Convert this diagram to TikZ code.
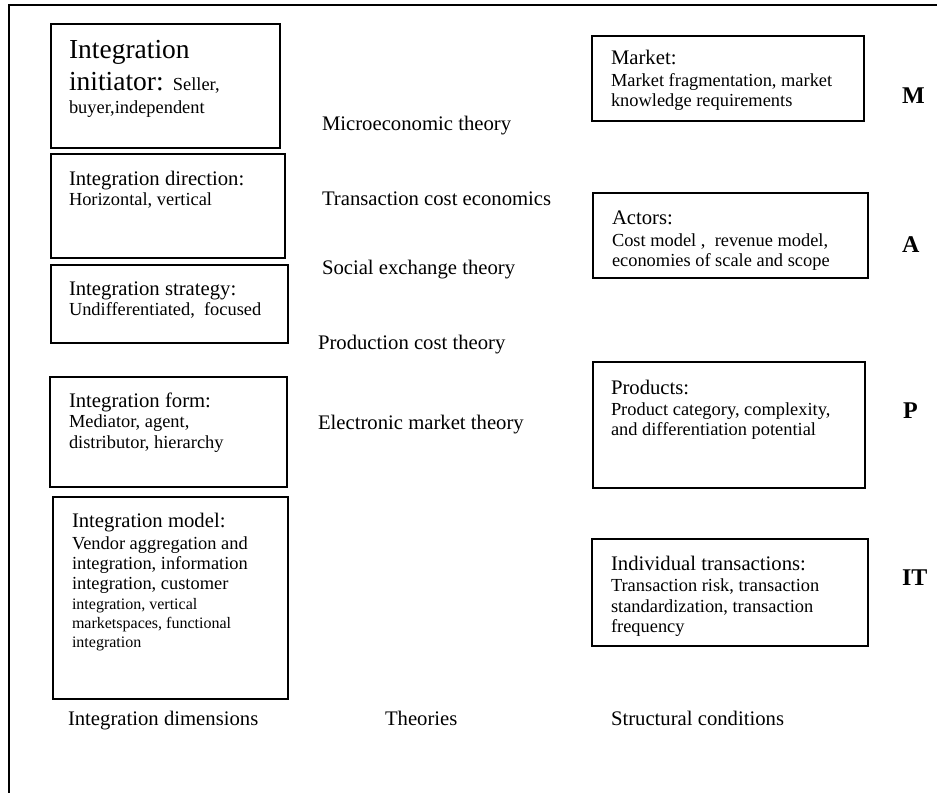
\documentclass[tikz,border=0pt]{standalone}
\usepackage{fontspec}
\setmainfont{Liberation Serif}

% type sizes used in the figure
\newcommand\bigfont{\fontsize{27.5}{33}\selectfont}
\newcommand\headfont{\fontsize{20.7}{22}\selectfont}
\newcommand\bodyfont{\fontsize{18.4}{20.5}\selectfont}
\newcommand\smallfont{\fontsize{16}{19}\selectfont}
\newcommand\tagfont{\fontsize{24}{24}\selectfont\bfseries}
% one text row, placed #1 pt below the previous baseline
\newcommand\rowat[2]{\baselineskip=#1pt\hbox{#2}}

\begin{document}
\begin{tikzpicture}[x=1pt,y=-1pt,
  frame/.style={line width=1.5pt},
  box/.style={draw, line width=1.5pt, inner sep=0pt},
  txt/.style={anchor=base west, inner sep=0pt, outer sep=0pt},
  theory/.style={txt, font=\headfont},
  tag/.style={txt, font=\tagfont}]

\useasboundingbox (0,0) rectangle (937,793);

% open frame: top and left edges only
\coordinate (fTR) at (937,5);
\coordinate (fTL) at (9,5);
\coordinate (fBL) at (9,793);
\draw[frame] (fTR) -- (fTL) -- (fBL);

% integration dimensions
\node[box, minimum width=229pt, minimum height=124pt] (init)  at (165.5,86) {};
\node[box, minimum width=234pt, minimum height=104pt] (dir)   at (168,206)  {};
\node[box, minimum width=237pt, minimum height=78pt]  (strat) at (169.5,304) {};
\node[box, minimum width=237pt, minimum height=110pt] (form)  at (168.5,432) {};
\node[box, minimum width=235pt, minimum height=202pt] (model) at (170.5,598) {};

\node[txt] (initT) at (69,58) {\vtop{%
  \rowat{0}{\bigfont Integration}%
  \rowat{32}{\bigfont initiator: \bodyfont Seller,}%
  \rowat{23}{\bodyfont buyer,independent}}};
\node[txt] (dirT) at (69,185) {\vtop{%
  \rowat{0}{\headfont Integration direction:}%
  \rowat{20}{\bodyfont Horizontal, vertical}}};
\node[txt] (stratT) at (69,295) {\vtop{%
  \rowat{0}{\headfont Integration strategy:}%
  \rowat{20.5}{\bodyfont Undifferentiated,\ \ focused}}};
\node[txt] (formT) at (69,407) {\vtop{%
  \rowat{0}{\headfont Integration form:}%
  \rowat{20.5}{\bodyfont Mediator, agent,}%
  \rowat{21}{\bodyfont distributor, hierarchy}}};
\node[txt] (modelT) at (72,527) {\vtop{%
  \rowat{0}{\headfont Integration model:}%
  \rowat{22}{\bodyfont Vendor aggregation and}%
  \rowat{20}{\bodyfont integration, information}%
  \rowat{20}{\bodyfont integration, customer}%
  \rowat{20}{\smallfont integration, vertical}%
  \rowat{19}{\smallfont marketspaces, functional}%
  \rowat{19}{\smallfont integration}}};

% theories
\node[theory] (th1) at (322,130) {Microeconomic theory};
\node[theory] (th2) at (322,205) {Transaction cost economics};
\node[theory] (th3) at (322,274) {Social exchange theory};
\node[theory] (th4) at (318,349) {Production cost theory};
\node[theory] (th5) at (318,429) {Electronic market theory};

% structural conditions
\node[box, minimum width=272pt, minimum height=85pt]  (market)   at (728,78.5)  {};
\node[box, minimum width=275pt, minimum height=85pt]  (actors)   at (730.5,235.5) {};
\node[box, minimum width=272pt, minimum height=126pt] (products) at (729,425)   {};
\node[box, minimum width=276pt, minimum height=107pt] (indiv)    at (730,592.5) {};

\node[txt] (marketT) at (611,64) {\vtop{%
  \rowat{0}{\headfont Market:}%
  \rowat{22}{\bodyfont Market fragmentation, market}%
  \rowat{20}{\bodyfont knowledge requirements}}};
\node[txt] (actorsT) at (612,224) {\vtop{%
  \rowat{0}{\headfont Actors:}%
  \rowat{22}{\bodyfont Cost model ,\ \ revenue model,}%
  \rowat{20}{\bodyfont economies of scale and scope}}};
\node[txt] (productsT) at (611,394) {\vtop{%
  \rowat{0}{\headfont Products:}%
  \rowat{21}{\bodyfont Product category, complexity,}%
  \rowat{20}{\bodyfont and differentiation potential}}};
\node[txt] (indivT) at (611,570) {\vtop{%
  \rowat{0}{\headfont Individual transactions:}%
  \rowat{21}{\bodyfont Transaction risk, transaction}%
  \rowat{21}{\bodyfont standardization, transaction}%
  \rowat{20}{\bodyfont frequency}}};

\node[tag] (tagM)  at (902,103) {M};
\node[tag] (tagA)  at (902,252) {A};
\node[tag] (tagP)  at (903,418) {P};
\node[tag] (tagIT) at (902,585) {IT};

% column captions
\node[theory] (capDim) at (68,725)  {Integration dimensions};
\node[theory] (capTh)  at (385,725) {Theories};
\node[theory] (capSC)  at (611,725) {Structural conditions};

\end{tikzpicture}
\end{document}
